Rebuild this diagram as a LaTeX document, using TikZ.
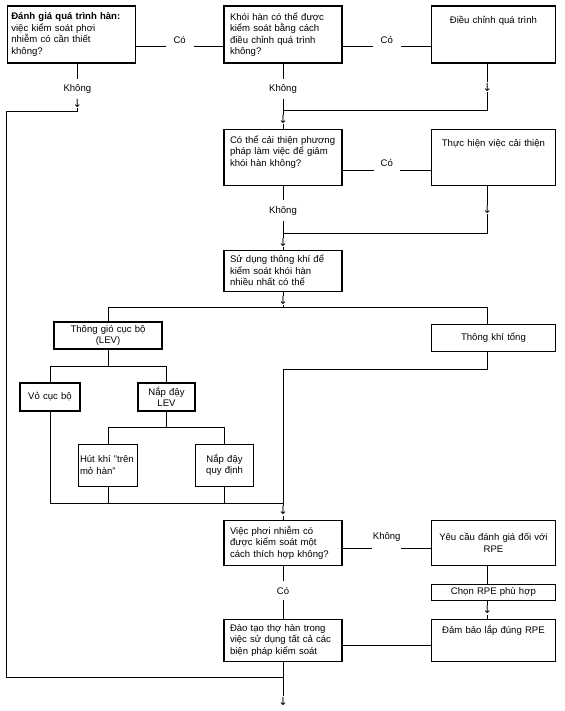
\documentclass[tikz,border=0pt]{standalone}
\usepackage{fontspec}
\setmainfont{Liberation Sans}
\newfontfamily\arrowfont{DejaVu Sans}
\usetikzlibrary{positioning, calc}

\begin{document}
\begin{tikzpicture}[
    % Global styles
    font=\fontsize{6.8}{8.2}\selectfont,
    node distance=1cm,
    % Box styles
    hopbox/.style={
      rectangle, draw=black, line width=0.75pt,
      inner xsep=1pt, inner ysep=2pt, align=left
    },
    mainbox/.style={hopbox, minimum width=2.95cm, text width=2.65cm},
    rightbox/.style={hopbox, minimum width=3.1cm, text width=2.95cm, align=center},
    levbox/.style={hopbox, align=center},
    % Label styles
    sidelbl/.style={fill=white, inner xsep=#1, inner ysep=5pt},
    vertlbl/.style={fill=white, inner xsep=1pt, inner ysep=4pt},
    downmark/.style={fill=white, inner sep=0.5pt, font=\arrowfont\fontsize{8}{8}\selectfont},
    conn/.style={line width=0.7pt, color=black},
  ]
  \useasboundingbox (0,0) rectangle (14.1,-17.775);

  % ====================================================================
  % TOP ROWS
  % ====================================================================
  \node[mainbox, minimum height=1.425cm] (kiemsoat) at (7.075,-0.8625) {
    Khói hàn có thể được\\ kiểm soát bằng cách\\ điều chỉnh quá trình\\ không?
  };
  \node[hopbox, minimum width=3.2cm, text width=3.0cm, minimum height=1.425cm, left=2.19cm of kiemsoat] (qtrinh) {
    \textbf{Đánh giá quá trình hàn:}\\ việc kiểm soát phơi\\ nhiễm có cần thiết\\ không?
  };
  \node[rightbox, text height=0.36cm, text depth=0.925cm, right=2.21cm of kiemsoat] (dieuchinh) {Điều chỉnh quá trình};

  \node[mainbox, text height=0.29cm, text depth=0.97cm, below=1.625cm of kiemsoat] (caithien) {
    Có thể cải thiện phương\\ pháp làm việc để giảm\\ khói hàn không?
  };
  \node[rightbox, text height=0.36cm, text depth=0.9cm, right=2.21cm of caithien] (thuchien) {Thực hiện việc cải thiện};

  \node[mainbox, minimum height=1.025cm, below=1.6cm of caithien] (thongkhi) {
    Sử dụng thông khí để\\ kiểm soát khói hàn\\ nhiều nhất có thể
  };

  % ====================================================================
  % VENTILATION TREE
  % ====================================================================
  \node[levbox, minimum width=2.7cm, text width=2.5cm, minimum height=0.675cm, inner ysep=1pt] (lev) at (2.7,-8.3875) {
    Thông gió cục bộ\\ (LEV)
  };
  \node[rightbox, minimum height=0.675cm, below=3.45cm of thuchien] (tong) {Thông khí tổng};

  \node[levbox, minimum width=1.5cm, text width=1.4cm, minimum height=0.7cm] (vo) at (1.25,-9.925) {Vỏ cục bộ};
  \node[levbox, minimum width=1.425cm, text width=1.3cm, minimum height=0.7cm, inner ysep=1pt] (napLEV) at (4.1625,-9.925) {
    Nắp đậy\\ LEV
  };
  \node[hopbox, minimum width=1.475cm, text width=1.4cm, minimum height=1.05cm, below=2.35cm of lev] (hutkhi) {
    Hút khí "trên\\ mỏ hàn"
  };
  \node[levbox, minimum width=1.45cm, text width=1.3cm, minimum height=1.05cm, right=1.425cm of hutkhi] (napqd) {
    Nắp đậy\\ quy định
  };

  % ====================================================================
  % LOWER ROWS
  % ====================================================================
  \node[mainbox, minimum height=1.125cm, below=5.7cm of thongkhi] (phoinhiem) {
    Việc phơi nhiễm có\\ được kiểm soát một\\ cách thích hợp không?
  };
  \node[rightbox, minimum height=1.125cm, right=2.21cm of phoinhiem] (yeucau) {
    Yêu cầu đánh giá đối với\\ RPE
  };
  \node[rightbox, minimum height=0.4cm, inner ysep=1pt, below=0.45cm of yeucau] (chon) {Chọn RPE phù hợp};

  \node[mainbox, minimum height=1.05cm, below=1.325cm of phoinhiem] (daotao) {
    Đào tạo thợ hàn trong\\ việc sử dụng tất cả các\\ biện pháp kiểm soát
  };
  \node[rightbox, text height=0.29cm, text depth=0.62cm, right=2.21cm of daotao] (dambao) {Đảm bảo lắp đúng RPE};

  % ------- Junctions -------
  \coordinate (rc) at ($(dieuchinh.south)+(-0.15,0)$);
  \coordinate (g1) at ($(qtrinh.south)+(0.15,-1.2)$);
  \coordinate (g2) at (qtrinh.west |- g1);
  \coordinate (g3) at ($(g2 |- daotao.south)+(0,-0.4)$);
  \coordinate (j2) at ($(kiemsoat.south)+(0,-1.175)$);
  \coordinate (j3) at ($(caithien.south)+(0,-1.2)$);
  \coordinate (j4) at ($(thongkhi.south)+(0,-0.4)$);
  \coordinate (b1) at ($(lev.south)+(0,-0.425)$);
  \coordinate (b2) at ($(napLEV.south)+(0,-0.4)$);
  \coordinate (b3) at ($(phoinhiem.north)+(0,0.4)$);
  \coordinate (b4) at ($(phoinhiem.north |- tong.south)+(0,-0.45)$);
  \coordinate (kt) at ($(daotao.south)+(0,-0.98)$);

  % ------- Connectors -------
  \draw[conn] ([yshift=-0.29cm]qtrinh.east) -- node[sidelbl=5.5pt, yshift=0.15cm] {Có} ([yshift=-0.29cm]kiemsoat.west);
  \draw[conn] ([yshift=-0.29cm]kiemsoat.east) -- node[sidelbl=5.5pt, yshift=0.15cm] {Có} ([yshift=-0.29cm]dieuchinh.west);
  \draw[conn] (qtrinh.south -| g1) -- node[vertlbl, pos=0.54] {Không} node[downmark, pos=0.83] {↓} (g1) -- (g2) -- (g3) -- (daotao.south |- g3);
  \draw[conn] (kiemsoat.south) -- node[vertlbl, pos=0.55] {Không} (j2) -| node[downmark, pos=0.75] {↓} (dieuchinh.south -| rc);
  \draw[conn] (j2) -- node[downmark] {↓} (caithien.north);

  \draw[conn] ([yshift=-0.325cm]caithien.east) -- node[sidelbl=5pt, yshift=0.17cm] {Có} ([yshift=-0.325cm]thuchien.west);
  \draw[conn] (caithien.south) -- node[vertlbl, pos=0.52] {Không} (j3) -| node[downmark, pos=0.75] {↓} (thuchien.south -| rc);
  \draw[conn] (j3) -- node[downmark, pos=0.55] {↓} (thongkhi.north);

  \draw[conn] (thongkhi.south) -- node[downmark, pos=0.55] {↓} (j4);
  \draw[conn] (lev.north) |- (j4) -| (tong.north -| rc);

  % Tree arrows
  \draw[conn] (lev.south) -- (b1);
  \draw[conn] (vo.north) |- (b1) -| (napLEV.north);
  \draw[conn] (napLEV.south) -- (b2);
  \draw[conn] (hutkhi.north) |- (b2) -| (napqd.north);
  \draw[conn] (vo.south) |- (b3);
  \draw[conn] (hutkhi.south) -- (hutkhi.south |- b3);
  \draw[conn] (napqd.south) -- (napqd.south |- b3);
  \draw[conn] (tong.south -| rc) |- (b4) -- (b3);
  \draw[conn] (b3) -- node[downmark, pos=0.45] {↓} (phoinhiem.north);

  % Lower arrows
  \draw[conn] ([yshift=-0.14cm]phoinhiem.east) -- node[sidelbl=0.5pt, yshift=0.28cm] {Không} ([yshift=-0.14cm]phoinhiem.east -| yeucau.west);
  \draw[conn] (phoinhiem.south) -- node[vertlbl, pos=0.47] {Có} (daotao.north);
  \draw[conn] (yeucau.south -| rc) -- (chon.north -| rc);
  \draw[conn] (chon.south -| rc) -- node[downmark] {↓} (dambao.north -| rc);
  \draw[conn] ([yshift=-0.14cm]daotao.east) -- ([yshift=-0.14cm]daotao.east -| dambao.west);
  \draw[conn] (daotao.south) -- node[downmark, at end] {↓} (kt);

\end{tikzpicture}
\end{document}
